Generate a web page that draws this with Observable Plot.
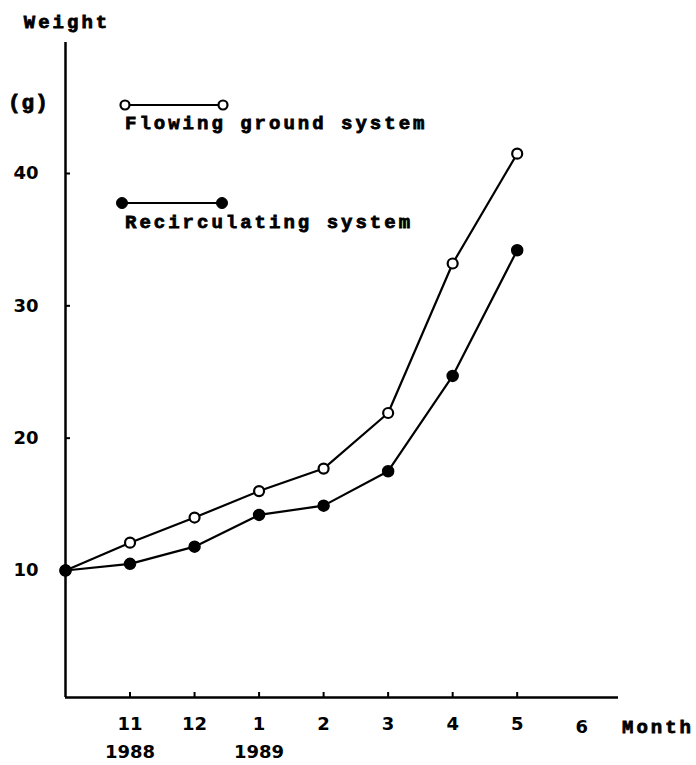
<!DOCTYPE html>
<html><head><meta charset="utf-8">
<script src="https://cdn.jsdelivr.net/npm/d3@7"></script>
<script src="https://cdn.jsdelivr.net/npm/@observablehq/plot@0.6"></script>
<style>
body{margin:0;background:#fff;}
#wrap{width:696px;height:765px;}
</style></head><body><div id="wrap"></div>
<script>
// month index: 10 = Oct 1988, 11 = Nov 1988, ... 17 = May 1989
const months = [10, 11, 12, 13, 14, 15, 16, 17];
const flowing = [10, 12.1, 14.0, 16.0, 17.7, 21.9, 33.2, 41.5];
const recirc = [10, 10.5, 11.8, 14.2, 14.9, 17.5, 24.7, 34.2];
const xTicks = [11, 12, 13, 14, 15, 16, 17];
const xTickLabels = ["11\n1988", "12", "1\n1989", "2", "3", "4", "5"];
const xExtraTicks = [18];
const xExtraLabels = ["6"];
const yTicks = [10, 20, 30, 40];
const seriesNames = ["Flowing ground system", "Recirculating system"];

const flowData = months.map((m, i) => ({m, w: flowing[i]}));
const recData = months.map((m, i) => ({m, w: recirc[i]}));

const numFont = {fontSize: 18, fontFamily: "DejaVu Sans", fontWeight: "bold"};

const chart = Plot.plot({
  width: 696, height: 765,
  marginLeft: 65, marginRight: 78, marginTop: 42, marginBottom: 68,
  style: {background: "#fff", overflow: "visible", color: "#000"},
  x: {domain: [10, 18.57]},
  y: {domain: [0.4, 49.9]},
  marks: [
    Plot.axisX({ticks: xTicks, tickFormat: (d, i) => xTickLabels[i], tickSize: -5, tickPadding: 18,
      lineHeight: 1.55, label: null, strokeWidth: 2, ...numFont}),
    Plot.axisX({ticks: xExtraTicks, tickFormat: (d, i) => xExtraLabels[i], tickSize: 0, tickPadding: 23,
      label: null, ...numFont}),
    Plot.axisY({ticks: yTicks, tickSize: -5, tickPadding: 32, label: null, strokeWidth: 2, ...numFont}),
    Plot.ruleX([10], {strokeWidth: 2.5}),
    Plot.ruleY([0.4], {strokeWidth: 2.5}),
    Plot.line(flowData, {x: "m", y: "w", stroke: "#000", strokeWidth: 2.2}),
    Plot.line(recData, {x: "m", y: "w", stroke: "#000", strokeWidth: 2.2}),
    Plot.dot(flowData, {x: "m", y: "w", r: 5, fill: "#fff", stroke: "#000", strokeWidth: 2.2}),
    Plot.dot(recData, {x: "m", y: "w", r: 5.5, fill: "#000", stroke: "#000"})
  ]
});
document.getElementById("wrap").appendChild(chart);

// annotations and legend
const svg = d3.select(chart);
const mono = (sel) => sel.attr("font-family", "'Liberation Mono', monospace").attr("font-weight", "bold")
  .attr("font-size", 19).attr("letter-spacing", "3px").attr("fill", "#000")
  .attr("stroke", "#000").attr("stroke-width", 0.8).attr("text-anchor", "start");
mono(svg.append("text").attr("x", 67).attr("y", 28).text("Weight")).attr("text-anchor", "middle");
mono(svg.append("text").attr("x", 8).attr("y", 109).text("(g)")).attr("font-size", 21).attr("letter-spacing", "1px");
mono(svg.append("text").attr("x", 622).attr("y", 733).text("Month"));

const leg = [
  {y: 105, x1: 125, x2: 223, ty: 129, filled: false},
  {y: 203, x1: 122, x2: 222, ty: 228, filled: true}
];
leg.forEach((d, i) => {
  svg.append("line").attr("x1", d.x1).attr("x2", d.x2).attr("y1", d.y).attr("y2", d.y)
    .attr("stroke", "#000").attr("stroke-width", 2);
  [d.x1, d.x2].forEach(x => {
    svg.append("circle").attr("cx", x).attr("cy", d.y).attr("r", d.filled ? 5.5 : 4.5)
      .attr("fill", d.filled ? "#000" : "#fff").attr("stroke", "#000").attr("stroke-width", d.filled ? 1 : 2.2);
  });
  mono(svg.append("text").attr("x", 125).attr("y", d.ty).text(seriesNames[i]));
});
</script>
</body></html>
